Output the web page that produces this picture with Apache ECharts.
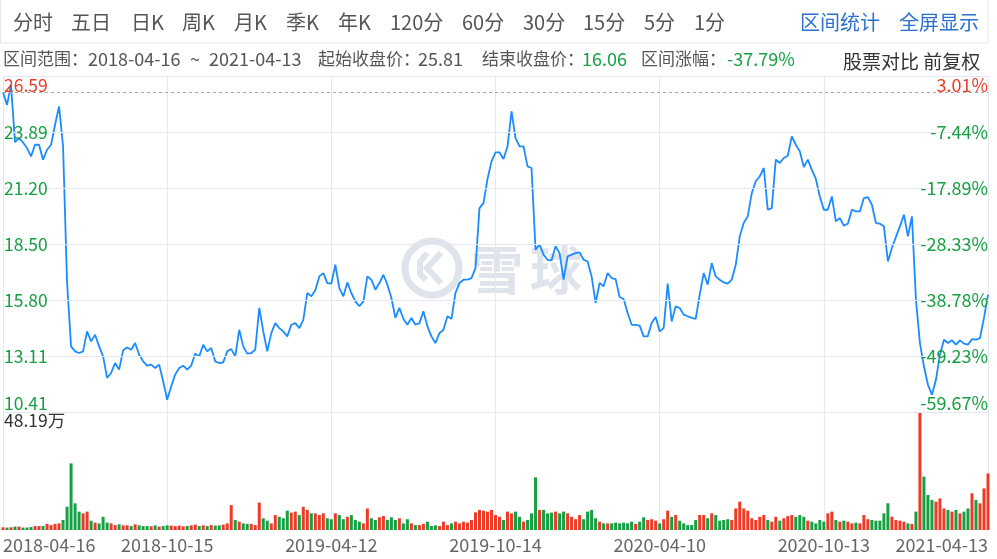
<!DOCTYPE html>
<html><head><meta charset="utf-8">
<script src="https://cdn.jsdelivr.net/npm/echarts@6/dist/echarts.min.js"></script>
<style>html,body{margin:0;padding:0;background:#fff}#c{width:997px;height:559px}</style>
</head><body><div id="c"></div>
<script>
// ---- tick labels ----
const xTickLabels = ['2018-04-16','2018-10-15','2019-04-12','2019-10-14','2020-04-10','2020-10-13','2021-04-13'];
const priceTickLabels = ['10.41','13.11','15.80','18.50','21.20','23.89','26.59'];
const pctTickLabels = ['-59.67%','-49.23%','-38.78%','-28.33%','-17.89%','-7.44%','3.01%'];
const priceMin = 10.41, priceMax = 26.59;
const startClose = 25.81;
const volumeMax = 48.19;
const volumeMaxLabel = '48.19万';

// ---- series values (sampled closes, price in CNY) ----
const closes = [
25.81,25.2,26.15,23.4,23.60,23.39,23.12,22.72,23.28,23.28,
22.56,23.04,23.28,24.24,25.13,23.2,16.62,13.57,13.33,13.25,
13.33,14.29,13.81,14.13,13.57,13.09,12.05,12.29,12.77,12.45,
13.38,13.52,13.41,13.73,13.17,12.85,12.64,12.69,12.53,12.69,
11.89,11.00,11.64,12.21,12.53,12.64,12.45,12.64,13.22,
13.09,13.65,13.33,13.49,12.85,12.77,12.80,13.33,13.44,13.09,
14.37,13.57,13.22,13.25,13.41,15.42,14.29,13.33,14.21,14.69,
14.45,14.29,14.05,14.61,14.69,14.45,14.85,16.14,15.98,16.27,
16.94,17.10,16.62,16.59,17.50,16.38,15.98,16.65,16.14,15.74,
15.50,15.74,16.94,16.78,16.30,16.62,17.02,16.54,15.90,14.94,
15.42,14.89,14.61,14.94,14.61,14.69,15.26,14.53,14.05,13.73,
14.21,14.37,15.02,14.89,16.14,16.62,16.78,16.78,16.86,17.34,
20.23,20.47,21.63,22.48,22.91,22.91,22.59,23.20,24.89,23.60,
23.20,23.20,22.24,22.16,18.23,18.47,17.99,17.74,17.71,18.39,
18.06,16.78,17.90,17.99,18.06,18.10,17.74,17.66,16.94,
15.66,16.62,16.46,17.10,16.86,16.81,15.95,15.85,15.18,14.61,
14.61,14.57,14.05,14.05,14.69,14.98,14.29,14.45,16.59,14.77,
15.50,15.42,15.10,15.02,14.94,14.89,16.06,17.10,16.54,17.58,
16.94,16.78,16.65,16.59,16.78,17.50,18.87,19.51,19.83,20.95,
21.52,21.76,22.16,20.15,20.23,22.56,22.40,22.64,22.75,23.68,
23.28,22.96,22.21,22.56,22.08,21.64,20.79,20.15,20.15,20.79,
19.59,19.75,19.38,19.48,20.15,20.07,20.07,20.71,20.76,20.39,
19.51,19.48,19.35,17.66,18.31,18.84,19.35,19.91,18.87,19.83,
15.82,13.73,12.61,11.72,11.24,11.96,13.17,13.89,13.73,13.86,
13.65,13.86,13.70,13.65,13.92,13.89,13.97,14.94,16.06
];
// volume, 万股
const volumes = [
1.1,1.0,1.1,1.4,1.4,1.0,1.0,1.2,1.6,1.6,
1.6,2.5,2.0,2.5,2.7,4.1,9.5,27.2,10.9,7.5,
6.8,7.5,3.8,3.0,2.7,5.4,3.0,2.7,2.0,2.3,
1.9,1.9,1.6,2.3,1.9,1.6,1.6,1.5,1.9,1.4,
1.6,1.9,1.8,1.6,1.8,1.5,1.6,1.9,2.2,
1.6,1.9,1.6,2.0,1.8,1.9,2.2,2.7,10.2,4.1,
3.4,2.7,2.5,2.5,2.0,11.2,4.8,3.8,2.7,6.1,
5.4,4.8,7.9,7.1,7.5,6.1,9.5,8.2,6.8,6.8,
6.1,6.8,4.8,4.4,6.8,6.1,4.4,5.4,6.1,4.1,
3.4,2.7,8.8,4.8,4.1,5.2,5.7,4.1,5.2,4.1,
4.8,2.7,4.4,2.7,2.0,2.0,2.5,3.4,1.6,1.9,
1.6,3.4,2.0,2.7,3.4,2.7,3.4,3.0,4.1,7.2,
8.2,7.9,7.5,8.2,6.1,5.4,4.1,7.5,6.8,7.5,
5.4,3.4,4.1,6.8,21.5,8.2,8.2,6.8,7.1,7.5,
6.8,7.5,6.8,5.4,4.4,6.1,4.4,7.5,8.2,
4.8,3.4,2.7,2.7,2.7,3.0,2.7,3.0,2.7,3.4,
2.5,3.4,5.2,4.1,4.4,3.8,2.7,4.4,7.9,5.4,
6.1,3.8,2.7,2.0,2.0,4.1,6.1,6.1,4.8,6.8,
6.1,3.8,4.1,4.4,4.1,8.8,11.6,8.8,7.9,4.8,
4.1,5.4,6.1,4.1,3.4,5.4,3.8,4.8,5.7,6.1,
5.4,6.1,5.4,3.8,3.4,2.7,4.1,3.4,6.8,7.5,
4.1,3.4,3.8,3.4,2.7,3.0,2.7,6.1,4.4,4.1,
3.8,3.8,6.8,10.9,5.4,4.1,3.8,3.4,2.7,2.5,
7.5,48.19,21.8,14.3,12.3,11.6,12.9,8.8,8.2,7.5,
8.2,6.8,7.5,8.8,15.0,12.3,10.9,17.0,23.1
];
// sessions whose candle closed above its open although the close fell (red volume bar)
const upCandleOverrides = [229];

const categories = closes.map((_, i) => String(i));
const TICK_STEP = (closes.length - 1) / (xTickLabels.length - 1);

const RED = '#ee3b28', GREEN = '#17a043', GRID = '#e6e8ef';
const FONT = "'Noto Sans CJK SC','Noto Sans',sans-serif";

const volData = volumes.map((v, i) => {
  const up = i === 0 || closes[i] >= closes[i - 1] || upCandleOverrides.includes(i);
  return { value: v, itemStyle: { color: up ? RED : GREEN } };
});

const chart = echarts.init(document.getElementById('c'), null, { renderer: 'canvas' });

function txt(text, x, y, size, color) {
  return { type: 'text', z: 10, style: { text, x, y, fontSize: size, fontFamily: FONT, fill: color, verticalAlign: 'middle', align: 'left' } };
}
const tabs = [['分时',13],['五日',71],['日K',131],['周K',182],['月K',234],['季K',286],['年K',338],['120分',390],['60分',462],['30分',523],['15分',583],['5分',644],['1分',694]];
const graphics = [
  { type: 'rect', z: 9, shape: { x: 0.5, y: -2, width: 987.5, height: 45 }, style: { fill: 'none', stroke: '#e8e8e8', lineWidth: 1 } },
  ...tabs.map(t => txt(t[0], t[1], 22, 20, '#555')),
  txt('区间统计', 800, 22, 20, '#2b6fcf'),
  txt('全屏显示', 899, 22, 20, '#2b6fcf'),
  txt('区间范围：', 3, 59, 17, '#555'),
  txt('2018-04-16', 88, 59, 18, '#555'),
  txt('~', 190, 59, 18, '#555'),
  txt('2021-04-13', 209, 59, 18, '#555'),
  txt('起始收盘价：', 318, 59, 17, '#555'),
  txt('25.81', 418, 59, 18, '#555'),
  txt('结束收盘价：', 482, 59, 17, '#555'),
  txt('16.06', 582, 59, 18, GREEN),
  txt('区间涨幅：', 641, 59, 17, '#555'),
  txt('-37.79%', 727, 59, 18, GREEN),
  txt('股票对比 前复权', 843, 62, 19, '#333'),
  // watermark
  { type: 'circle', z: 0, shape: { cx: 432, cy: 268, r: 27 }, style: { fill: 'none', stroke: '#dfe3eb', lineWidth: 7 } },
  { type: 'polyline', z: 0, shape: { points: [[441, 253], [427, 268], [441, 283]] }, style: { fill: 'none', stroke: '#dfe3eb', lineWidth: 6 } },
  { type: 'polyline', z: 0, shape: { points: [[427, 253], [420, 262], [420, 274], [426, 280]] }, style: { fill: 'none', stroke: '#dfe3eb', lineWidth: 6 } },
  { type: 'text', z: 0, style: { text: '雪', x: 497, y: 270, fontSize: 52, fontWeight: 'bold', fontFamily: FONT, fill: '#dfe3eb', align: 'center', verticalAlign: 'middle' } },
  { type: 'text', z: 0, style: { text: '球', x: 556, y: 270, fontSize: 52, fontWeight: 'bold', fontFamily: FONT, fill: '#dfe3eb', align: 'center', verticalAlign: 'middle' } }
];

const option = {
  animation: false,
  backgroundColor: '#fff',
  textStyle: { fontFamily: FONT },
  graphic: graphics,
  grid: [
    { left: 3, right: 9, top: 76, height: 336 },
    { left: 3, right: 9, top: 412, height: 118 }
  ],
  xAxis: [
    { type: 'category', gridIndex: 0, data: categories, boundaryGap: false,
      axisLine: { show: false }, axisTick: { show: false }, axisLabel: { show: false },
      splitLine: { show: true, interval: TICK_STEP - 1, lineStyle: { color: GRID, width: 1 } } },
    { type: 'category', gridIndex: 1, data: categories, boundaryGap: false,
      axisLine: { show: false }, axisTick: { show: false },
      axisLabel: { show: true, interval: TICK_STEP - 1, margin: 6, fontSize: 18, color: '#666', fontFamily: FONT,
        alignMinLabel: 'left', alignMaxLabel: 'right',
        formatter: (v, i) => (i % TICK_STEP === 0 ? xTickLabels[i / TICK_STEP] : '') },
      splitLine: { show: true, interval: TICK_STEP - 1, lineStyle: { color: GRID, width: 1 } } }
  ],
  yAxis: [
    { type: 'value', gridIndex: 0, min: priceMin, max: priceMax, show: false, splitLine: { show: false } },
    { type: 'value', gridIndex: 0, position: 'left', min: 0, max: priceTickLabels.length - 1, interval: 1, z: 5,
      axisLine: { show: false }, axisTick: { show: false },
      splitLine: { show: true, lineStyle: { color: GRID, width: 1 } },
      axisLabel: { inside: true, margin: 1, fontSize: 17.5, lineHeight: 18, fontFamily: FONT,
        color: (v) => (Number(v) === priceTickLabels.length - 1 ? RED : GREEN),
        formatter: (v) => { const k = Math.round(v); const s = priceTickLabels[k];
          return k === priceTickLabels.length - 1 ? '\n' + s : (k === 0 ? s + '\n' : s); } } },
    { type: 'value', gridIndex: 0, position: 'right', min: 0, max: pctTickLabels.length - 1, interval: 1, z: 5,
      axisLine: { show: false }, axisTick: { show: false }, splitLine: { show: false },
      axisLabel: { inside: true, margin: 0, fontSize: 18, lineHeight: 18, fontFamily: FONT,
        color: (v) => (Number(v) === pctTickLabels.length - 1 ? RED : GREEN),
        formatter: (v) => { const k = Math.round(v); const s = pctTickLabels[k];
          return k === pctTickLabels.length - 1 ? '\n' + s : (k === 0 ? s + '\n' : s); } } },
    { type: 'value', gridIndex: 1, min: 0, max: volumeMax, interval: volumeMax,
      axisLine: { show: false }, axisTick: { show: false }, splitLine: { show: false },
      axisLabel: { inside: true, margin: 1, fontSize: 17.5, color: '#333', verticalAlign: 'top', fontFamily: FONT,
        formatter: (v) => (v > 0 ? volumeMaxLabel : '') } }
  ],
  series: [
    { type: 'line', xAxisIndex: 0, yAxisIndex: 0, data: closes, symbol: 'none', z: 3,
      lineStyle: { color: '#1a8cff', width: 1.8 },
      markLine: { silent: true, symbol: 'none', label: { show: false },
        lineStyle: { color: '#a8a8a8', type: [3, 3], width: 1 },
        data: [{ yAxis: startClose }] } },
    { type: 'bar', xAxisIndex: 1, yAxisIndex: 3, data: volData, barWidth: '75%' }
  ]
};
chart.setOption(option);
</script>
</body></html>
